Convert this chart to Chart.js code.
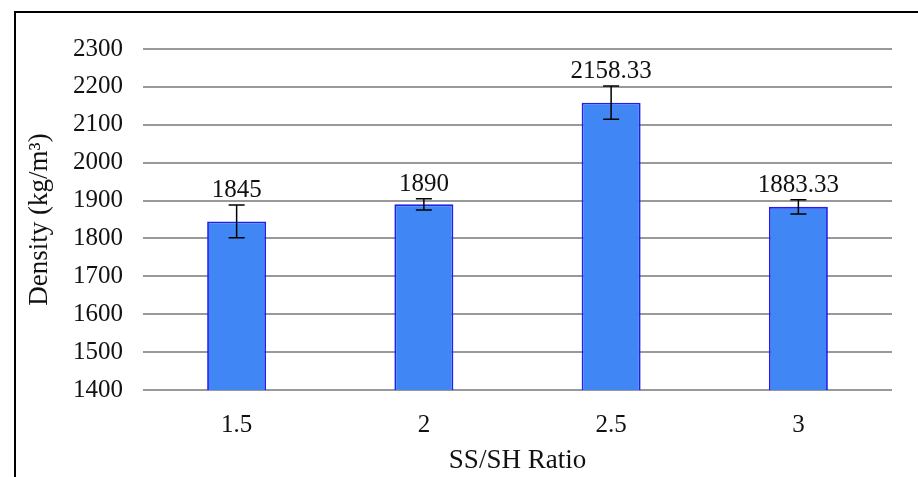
<!DOCTYPE html>
<html>
<head>
<meta charset="utf-8">
<script src="https://cdn.jsdelivr.net/npm/chart.js@4.4.0/dist/chart.umd.min.js"></script>
<style>
  html, body { margin: 0; padding: 0; background: #fff; }
  #wrap { position: relative; width: 918px; height: 477px; overflow: hidden; }
  #frame { position: absolute; left: 14px; top: 11px; width: 1000px; height: 1000px;
           border-left: 2px solid #000; border-top: 2px solid #000; pointer-events: none; }
  canvas { position: absolute; left: 0; top: 0; }
</style>
</head>
<body>
<div id="wrap">
  <canvas id="myChart1" width="918" height="477"></canvas>
  <div id="frame"></div>
</div>
<script>
var ratios = ["1.5", "2", "2.5", "3"];
var density = [1845, 1890, 2158.33, 1883.33];
var densityErr = [43, 15, 44, 19];
var densityLabels = ["1845", "1890", "2158.33", "1883.33"];

var serif = "'Liberation Serif', 'DejaVu Serif', serif";

// draws the error bars and the value labels above them
var errorBarsPlugin = {
  id: "errorBars",
  afterDatasetsDraw: function(chart) {
    var ctx = chart.ctx;
    var meta = chart.getDatasetMeta(0);
    var y = chart.scales.y;
    ctx.save();
    ctx.strokeStyle = "#000";
    ctx.lineWidth = 1.5;
    ctx.fillStyle = "#111";
    ctx.font = "25px " + serif;
    ctx.textAlign = "center";
    ctx.textBaseline = "alphabetic";
    for (var i = 0; i < meta.data.length; i++) {
      var x = meta.data[i].x;
      var top = y.getPixelForValue(density[i] + densityErr[i]);
      var bot = y.getPixelForValue(density[i] - densityErr[i]);
      ctx.beginPath();
      ctx.moveTo(x, top); ctx.lineTo(x, bot);
      ctx.moveTo(x - 8, top); ctx.lineTo(x + 8, top);
      ctx.moveTo(x - 8, bot); ctx.lineTo(x + 8, bot);
      ctx.stroke();
      ctx.fillText(densityLabels[i], x, top - 8);
    }
    ctx.restore();
  }
};

var ctx = document.getElementById("myChart1").getContext("2d");

var lineChart = new Chart(ctx, {
  type: "bar",
  data: {
    labels: ratios,
    datasets: [{
      label: "Density",
      data: density,
      backgroundColor: "#4086f4",
      borderColor: "#1f1ff0",
      borderWidth: 1.8,
      barPercentage: 0.63,
      categoryPercentage: 0.5
    }]
  },
  options: {
    responsive: false,
    animation: false,
    layout: { padding: { left: 26, right: 26, top: 49, bottom: 0 } },
    plugins: {
      legend: { display: false },
      tooltip: { enabled: false }
    },
    scales: {
      x: {
        afterFit: function(scale) { scale.height = 87; },
        grid: { display: false, drawTicks: false },
        border: { display: false },
        ticks: { color: "#111", font: { family: serif, size: 25 }, padding: 20 },
        title: { display: true, text: "SS/SH Ratio", color: "#111",
                 font: { family: serif, size: 27, lineHeight: 1 }, padding: { top: 0, bottom: 3 } }
      },
      y: {
        min: 1400,
        max: 2300,
        afterFit: function(scale) { scale.width = 117; },
        grid: { color: "#999", lineWidth: 2, drawTicks: false },
        border: { display: false },
        ticks: { stepSize: 100, color: "#111", font: { family: serif, size: 25 }, padding: 20,
                 callback: function(v) { return String(v); } },
        title: { display: true, text: "Density (kg/m³)", color: "#111",
                 font: { family: serif, size: 27, lineHeight: 1 }, padding: 0 }
      }
    }
  },
  plugins: [errorBarsPlugin]
});
</script>
</body>
</html>
